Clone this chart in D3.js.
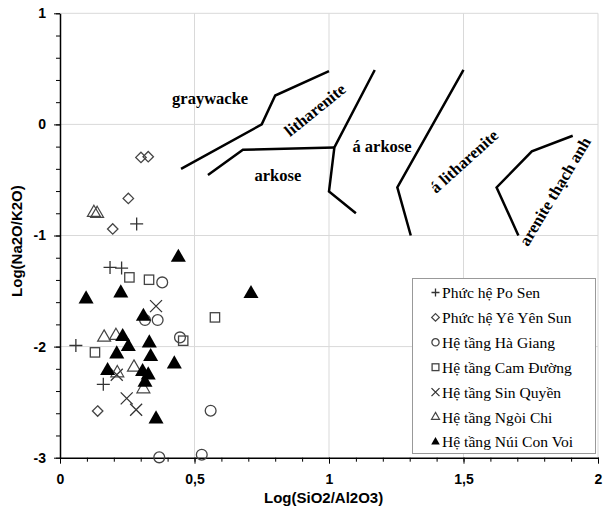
<!DOCTYPE html>
<html>
<head>
<meta charset="utf-8">
<script src="https://cdn.jsdelivr.net/npm/d3@7"></script>
<style>
  body { margin: 0; background: #fff; }
  .tick text { font-family: "Liberation Sans", Arial, sans-serif; font-weight: bold; font-size: 14px; }
  .axisTitle { font-family: "Liberation Sans", Arial, sans-serif; font-weight: bold; font-size: 15px; }
  .field { font-family: "Liberation Serif", "Times New Roman", serif; font-weight: bold; font-size: 16.5px; }
  .legendText { font-family: "Liberation Serif", "Times New Roman", serif; font-size: 15.6px; }
</style>
</head>
<body>
<div id="chart"></div>
<script>
var svgWidth = 603;
var svgHeight = 509;

// data: [Log(SiO2/Al2O3), Log(Na2O/K2O)]
var poSen = [[0.059, -1.99], [0.161, -2.34], [0.186, -1.287], [0.229, -1.293], [0.285, -0.896]];
var yeYenSun = [[0.301, -0.297], [0.328, -0.291], [0.254, -0.666], [0.196, -0.941], [0.140, -2.58]];
var haGiang = [[0.316, -1.761], [0.363, -1.761], [0.380, -1.422], [0.446, -1.917], [0.560, -2.577], [0.369, -2.997], [0.527, -2.973]];
var camDuong = [[0.258, -1.377], [0.331, -1.398], [0.458, -1.947], [0.576, -1.737], [0.130, -2.052]];
var sinQuyen = [[0.357, -1.636], [0.211, -2.253], [0.248, -2.466], [0.283, -2.568]];
var ngoiChi = [[0.126, -0.795], [0.138, -0.804], [0.164, -1.917], [0.208, -1.902], [0.213, -2.238], [0.275, -2.187], [0.310, -2.382]];
var nuiConVoi = [[0.097, -1.572], [0.226, -1.518], [0.310, -1.728], [0.233, -1.911], [0.254, -2.001], [0.211, -2.067],
  [0.332, -1.968], [0.337, -2.091], [0.425, -2.157], [0.177, -2.217], [0.307, -2.226], [0.328, -2.256],
  [0.316, -2.322], [0.357, -2.652], [0.440, -1.197], [0.710, -1.524]];

var seriesNames = ["Phức hệ Po Sen", "Phức hệ Yê Yên Sun", "Hệ tầng Hà Giang", "Hệ tầng Cam Đường",
  "Hệ tầng Sin Quyền", "Hệ tầng Ngòi Chi", "Hệ tầng Núi Con Voi"];
var seriesData = [poSen, yeYenSun, haGiang, camDuong, sinQuyen, ngoiChi, nuiConVoi];
var seriesShapes = ["plus", "diamond", "circle", "square", "x", "triangle", "triangleFilled"];

// classification field boundaries
var boundaries = [
  [[0.45, -0.40], [0.75, 0.0], [0.80, 0.26], [1.0, 0.48]],
  [[0.55, -0.455], [0.68, -0.228], [1.02, -0.207]],
  [[1.17, 0.49], [1.02, -0.207], [1.0, -0.603], [1.10, -0.80]],
  [[1.50, 0.49], [1.254, -0.567], [1.304, -1.0]],
  [[1.906, -0.102], [1.754, -0.243], [1.623, -0.567], [1.704, -1.0]]
];
var fieldLabels = [
  { text: "graywacke", x: 0.558, y: 0.234, angle: 0 },
  { text: "litharenite", x: 0.948, y: 0.130, angle: -39 },
  { text: "arkose", x: 0.810, y: -0.462, angle: 0 },
  { text: "á arkose", x: 1.197, y: -0.195, angle: 0 },
  { text: "á litharenite", x: 1.502, y: -0.333, angle: -42 },
  { text: "arenite thạch anh", x: 1.840, y: -0.603, angle: -59 }
];

var xMajor = [0, 0.5, 1, 1.5, 2];
var yMajor = [1, 0, -1, -2, -3];

var svg = d3.select("#chart")
  .append("svg")
  .attr("width", svgWidth)
  .attr("height", svgHeight);

svg.append("rect").attr("width", svgWidth).attr("height", svgHeight).attr("fill", "#fff");

var xScale = d3.scaleLinear().domain([0, 2]).range([60, 598]);
var yScale = d3.scaleLinear().domain([-3, 1]).range([457.7, 13.3]);

// gridlines
svg.append("g").selectAll("line")
  .data(xMajor.slice(1))
  .enter().append("line")
  .attr("x1", d => xScale(d)).attr("x2", d => xScale(d))
  .attr("y1", yScale(-3)).attr("y2", yScale(1))
  .attr("stroke", "#d9d9d9").attr("stroke-width", 1);

svg.append("g").selectAll("line")
  .data(yMajor.slice(0, 4))
  .enter().append("line")
  .attr("x1", xScale(0)).attr("x2", xScale(2))
  .attr("y1", d => yScale(d)).attr("y2", d => yScale(d))
  .attr("stroke", "#d9d9d9").attr("stroke-width", 1);

// minor ticks
var xMinor = d3.range(0, 2.001, 0.1);
var yMinor = d3.range(-3, 1.001, 0.2);

svg.append("g")
  .attr("transform", `translate(0, ${yScale(-3)})`)
  .call(d3.axisBottom(xScale).tickValues(xMinor).tickSize(4).tickFormat(""))
  .call(g => g.select(".domain").remove());

svg.append("g")
  .attr("transform", `translate(${xScale(0)}, 0)`)
  .call(d3.axisLeft(yScale).tickValues(yMinor).tickSize(4).tickFormat(""))
  .call(g => g.select(".domain").remove());

// major axes
var fmt = d => String(d).replace(".", ",");
var xAxis = svg.append("g")
  .attr("transform", `translate(0, ${yScale(-3)})`)
  .call(d3.axisBottom(xScale).tickValues(xMajor).tickSize(6).tickPadding(10).tickFormat(fmt).tickSizeOuter(0));
xAxis.select(".domain").attr("stroke-width", 1.5);

var yAxis = svg.append("g")
  .attr("transform", `translate(${xScale(0)}, 0)`)
  .call(d3.axisLeft(yScale).tickValues(yMajor).tickSize(6).tickPadding(8).tickFormat(fmt).tickSizeOuter(0));
yAxis.select(".domain").attr("stroke-width", 1.5);

// axis titles
svg.append("text")
  .attr("class", "axisTitle")
  .attr("transform", `translate(22, ${yScale(-1.05)}) rotate(-90)`)
  .attr("text-anchor", "middle")
  .text("Log(Na2O/K2O)");

svg.append("text")
  .attr("class", "axisTitle")
  .attr("x", xScale(0.98))
  .attr("y", 503)
  .attr("text-anchor", "middle")
  .text("Log(SiO2/Al2O3)");

// boundaries
var line = d3.line().x(d => xScale(d[0])).y(d => yScale(d[1]));
svg.append("g").selectAll("path")
  .data(boundaries)
  .enter().append("path")
  .attr("d", line)
  .attr("fill", "none")
  .attr("stroke", "#000")
  .attr("stroke-width", 2.5);

svg.append("g").selectAll("text")
  .data(fieldLabels)
  .enter().append("text")
  .attr("class", "field")
  .attr("text-anchor", "middle")
  .attr("dominant-baseline", "central")
  .attr("transform", d => `translate(${xScale(d.x)}, ${yScale(d.y)}) rotate(${d.angle})`)
  .text(d => d.text);

// marker drawing
function drawMarker(g, shape, s) {
  var h = s / 2;
  if (shape === "plus") {
    g.append("path").attr("d", `M${-h},0H${h}M0,${-h}V${h}`)
      .attr("stroke", "#333").attr("stroke-width", 1.3).attr("fill", "none");
  } else if (shape === "x") {
    g.append("path").attr("d", `M${-h},${-h}L${h},${h}M${-h},${h}L${h},${-h}`)
      .attr("stroke", "#333").attr("stroke-width", 1.3).attr("fill", "none");
  } else if (shape === "circle") {
    g.append("circle").attr("r", h * 0.9)
      .attr("fill", "none").attr("stroke", "#444").attr("stroke-width", 1.3);
  } else if (shape === "square") {
    var q = h * 0.85;
    g.append("rect").attr("x", -q).attr("y", -q).attr("width", 2 * q).attr("height", 2 * q)
      .attr("fill", "none").attr("stroke", "#444").attr("stroke-width", 1.3);
  } else if (shape === "diamond") {
    var r = h * 0.95;
    g.append("path").attr("d", `M0,${-r}L${r},0L0,${r}L${-r},0Z`)
      .attr("fill", "none").attr("stroke", "#444").attr("stroke-width", 1.3);
  } else if (shape === "triangle") {
    g.append("path").attr("d", d3.symbol().type(d3.symbolTriangle).size(s * s * 0.43)())
      .attr("fill", "none").attr("stroke", "#444").attr("stroke-width", 1.2);
  } else if (shape === "triangleFilled") {
    g.append("path").attr("d", d3.symbol().type(d3.symbolTriangle).size(s * s * 0.5)())
      .attr("fill", "#000");
  }
}

var markerSize = { plus: 13, x: 12, circle: 12, square: 11, diamond: 11, triangle: 13, triangleFilled: 14 };

seriesData.forEach(function(data, i) {
  var shape = seriesShapes[i];
  svg.append("g").selectAll("g")
    .data(data)
    .enter().append("g")
    .attr("transform", d => `translate(${xScale(d[0])}, ${yScale(d[1])})`)
    .each(function() { drawMarker(d3.select(this), shape, markerSize[shape]); });
});

// legend
var legend = svg.append("g");
legend.append("rect")
  .attr("x", 412.5).attr("y", 278.5).attr("width", 183).attr("height", 175)
  .attr("fill", "#fff").attr("stroke", "#999").attr("stroke-width", 1);

seriesNames.forEach(function(name, i) {
  var yy = 292.5 + i * 24.9;
  var g = legend.append("g").attr("transform", `translate(435.5, ${yy})`);
  drawMarker(g, seriesShapes[i], 8);
  legend.append("text")
    .attr("class", "legendText")
    .attr("x", 442)
    .attr("y", yy)
    .attr("dominant-baseline", "central")
    .text(name);
});
</script>
</body>
</html>
